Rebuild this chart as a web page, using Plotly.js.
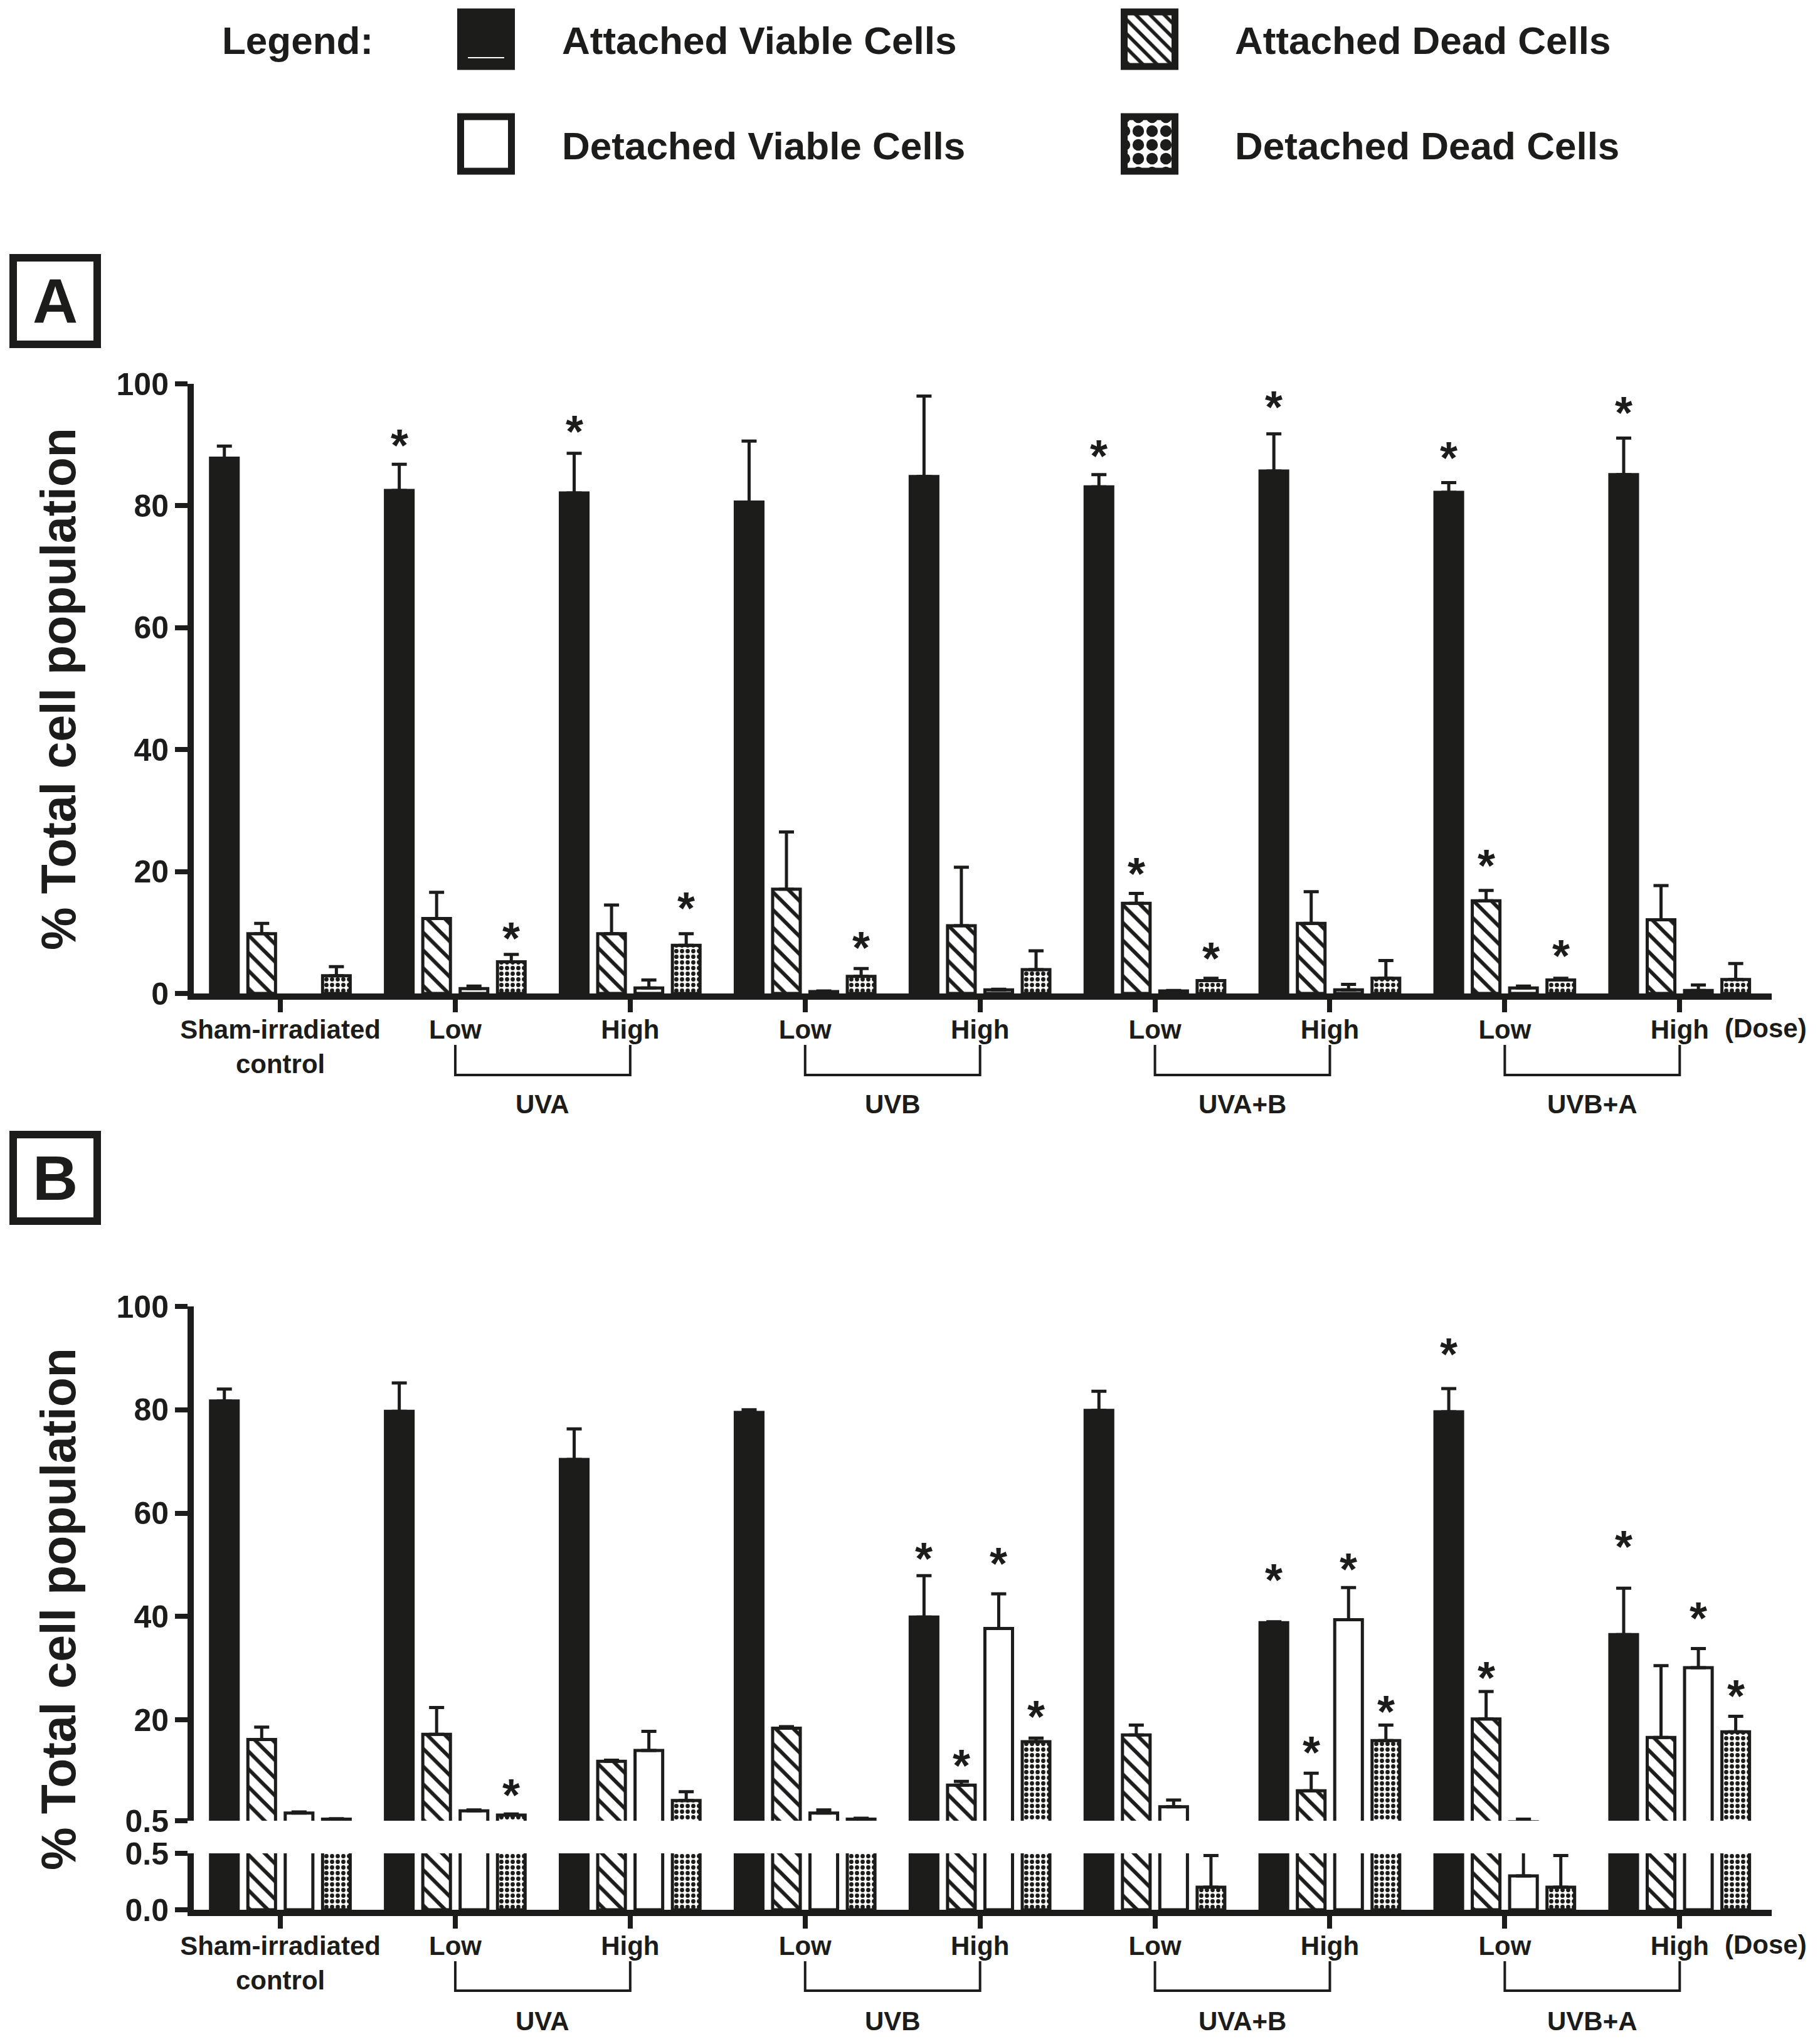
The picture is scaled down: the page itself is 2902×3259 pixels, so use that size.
<!DOCTYPE html>
<html>
<head>
<meta charset="utf-8">
<script src="https://cdn.plot.ly/plotly-3.0.1.min.js"></script>
<style>html,body{margin:0;padding:0;background:#fff}</style>
</head>
<body>
<div id="chart" style="width:2902px;height:3259px"></div>
<script>
var W = 2902, H = 3259
var ink = '#1c1d1a'
var FONT = '"Liberation Sans", Arial, sans-serif'

// categories (same for both panels)
var doses = ['Sham-irradiated<br>control', 'Low', 'High', 'Low', 'High', 'Low', 'High', 'Low', 'High']
var treatments = ['UVA', 'UVB', 'UVA+B', 'UVB+A']
var seriesNames = ['Attached Viable Cells', 'Attached Dead Cells', 'Detached Viable Cells', 'Detached Dead Cells']

// Panel A values (% total cell population) and upper error
var aAttViable    = [87.8, 82.5, 82.1, 80.6, 84.8, 83.1, 85.7, 82.2, 85.1]
var aAttViableErr = [2.0, 4.3, 6.5, 10.0, 13.2, 2.0, 6.1, 1.6, 6.0]
var aAttDead      = [9.8, 12.3, 9.8, 17.1, 11.1, 14.8, 11.5, 15.2, 12.1]
var aAttDeadErr   = [1.7, 4.3, 4.7, 9.4, 9.6, 1.6, 5.2, 1.7, 5.6]
var aDetViable    = [null, 0.8, 0.9, 0.3, 0.6, 0.4, 0.6, 0.9, 0.5]
var aDetViableErr = [0, 0.4, 1.3, 0.1, 0.1, 0.1, 0.9, 0.3, 0.9]
var aDetDead      = [2.9, 5.2, 7.9, 2.8, 3.9, 2.1, 2.5, 2.2, 2.3]
var aDetDeadErr   = [1.5, 1.2, 1.9, 1.3, 3.1, 0.4, 2.9, 0.3, 2.6]

// Panel A significance stars (height of the star, null = none)
var aStarAttViable = [null, 91.4, 93.6, null, null, 89.6, 97.6, 89.3, 96.7]
var aStarAttDead   = [null, null, null, null, null, 21.1, null, 22.4, null]
var aStarDetViable = [null, null, null, null, null, null, null, null, null]
var aStarDetDead   = [null, 10.5, 15.4, 9.0, null, 7.2, null, 7.6, null]

// Panel B values
var bAttViable    = [81.7, 79.7, 70.4, 79.5, 39.9, 79.9, 38.8, 79.6, 36.5]
var bAttViableErr = [2.3, 5.5, 5.9, 0.5, 8.0, 3.7, 0.2, 4.5, 9.0]
var bAttDead      = [16.2, 17.2, 12.0, 18.4, 7.4, 17.1, 6.3, 20.2, 16.6]
var bAttDeadErr   = [2.4, 5.2, 0.2, 0.3, 0.7, 1.9, 3.4, 5.3, 13.9]
var bDetViable    = [2.0, 2.4, 14.1, 2.0, 37.7, 3.2, 39.4, 0.3, 30.1]
var bDetViableErr = [0.2, 0.2, 3.7, 0.6, 6.7, 1.3, 6.2, 0.5, 3.7]
var bDetDead      = [0.8, 1.6, 4.4, 0.8, 15.8, 0.2, 16.0, 0.2, 17.7]
var bDetDeadErr   = [0.1, 0.2, 1.7, 0.2, 0.7, 0.28, 3.0, 0.28, 3.0]

var bStarAttViable = [null, null, null, null, 52.9, null, 48.8, 92.5, 55.2]
var bStarAttDead   = [null, null, null, null, 12.9, null, 15.4, 29.9, null]
var bStarDetViable = [null, null, null, null, 51.9, null, 50.8, null, 41.4]
var bStarDetDead   = [null, 7.2, null, null, 22.3, null, 23.3, null, 26.3]

var idx = doses.map(function (d, i) { return i })

var BARGAP = 0.146, GROUPGAP = 0.26
var BREAK = 0.5 // value where the panel B axis is broken

// fill styles of the four series
var styles = [
    { color: ink, line: { color: ink, width: 5 } },
    { color: '#fff', line: { color: ink, width: 5 },
      pattern: { shape: '\\', fgcolor: ink, bgcolor: '#fff', size: 20, solidity: 0.3 } },
    { color: '#fff', line: { color: ink, width: 5 } },
    { color: '#fff', line: { color: ink, width: 5 },
      pattern: { shape: '.', fgcolor: ink, bgcolor: '#fff', size: 9, solidity: 0.45 } },
]

function slotOffset(s) {
    var gw = 1 - BARGAP
    return -gw / 2 + gw / 4 * (s + 0.5)
}

// minBreak: hide error bars that end below the axis break (upper segment)
function bars(xa, ya, vals, errs, s, minBreak) {
    var up = errs.map(function (e, i) {
        if (minBreak && (vals[i] == null || vals[i] + e < BREAK)) return null
        return e
    })
    return {
        type: 'bar', name: seriesNames[s], x: idx, y: vals,
        xaxis: xa, yaxis: ya, marker: styles[s],
        error_y: {
            type: 'data', symmetric: false, array: up,
            arrayminus: up.map(function (e) { return e == null ? null : 0 }),
            color: ink, thickness: 5, width: 12
        },
        hoverinfo: 'skip'
    }
}

var panelA = [[aAttViable, aAttViableErr, aStarAttViable], [aAttDead, aAttDeadErr, aStarAttDead],
              [aDetViable, aDetViableErr, aStarDetViable], [aDetDead, aDetDeadErr, aStarDetDead]]
var panelB = [[bAttViable, bAttViableErr, bStarAttViable], [bAttDead, bAttDeadErr, bStarAttDead],
              [bDetViable, bDetViableErr, bStarDetViable], [bDetDead, bDetDeadErr, bStarDetDead]]

var data = []
panelA.forEach(function (p, s) { data.push(bars('x', 'y', p[0], p[1], s)) })
panelB.forEach(function (p, s) { data.push(bars('x2', 'y2', p[0], p[1], s, true)) })  // upper segment
panelB.forEach(function (p, s) { data.push(bars('x2', 'y3', p[0], p[1], s)) })        // lower segment (0 - 0.5)

// legend swatches drawn as bars on a hidden pixel-space axis
var legCols = [775, 1833], legRows = [19, 186]
seriesNames.forEach(function (n, s) {
    var m = JSON.parse(JSON.stringify(styles[s]))
    m.line.width = 11
    if (m.pattern) { m.pattern.size = s == 1 ? 16 : 22; m.pattern.solidity = s == 1 ? 0.35 : 0.55 }
    data.push({
        type: 'bar', x: [legCols[s % 2]], y: [87], base: [legRows[Math.floor(s / 2)]],
        width: [81], offset: [-40.5], xaxis: 'x4', yaxis: 'y4', marker: m, hoverinfo: 'skip'
    })
})

function px(y) { return 1 - y / H }

var tickFont = { family: FONT, size: 50, color: ink, weight: 'bold' }
var xTickFont = { family: FONT, size: 42, color: ink, weight: 'bold' }

function xAxis(anchor) {
    return {
        domain: [309 / W, 2825 / W], range: [-0.495, 8.526], anchor: anchor, type: 'linear',
        tickvals: idx, ticktext: doses, ticks: 'outside', ticklen: 20, tickwidth: 8, tickcolor: ink,
        ticklabelstandoff: -8,
        showline: true, linewidth: 10, linecolor: ink, showgrid: false, zeroline: false,
        tickfont: xTickFont, fixedrange: true
    }
}

function yAxis(anchor, domain, range, vals, text) {
    return {
        domain: domain, range: range, anchor: anchor,
        tickvals: vals, ticktext: text, ticks: 'outside', ticklen: 20, tickwidth: 8, tickcolor: ink,
        showline: true, linewidth: 10, linecolor: ink, showgrid: false, zeroline: false,
        tickfont: tickFont, fixedrange: true
    }
}

var annotations = []
var shapes = []

function note(text, x, y, size, opts) {
    var a = {
        text: text, x: x, y: y, xref: 'paper', yref: 'paper', showarrow: false,
        xanchor: 'left', yanchor: 'middle',
        font: { family: FONT, size: size, color: ink, weight: 'bold' }
    }
    for (var k in opts) a[k] = opts[k]
    annotations.push(a)
}

// significance stars, placed over their bar slot
function starNotes(xa, ya, ys, s) {
    ys.forEach(function (v, i) {
        if (v == null) return
        annotations.push({
            text: '*', x: i + slotOffset(s), y: v, xref: xa, yref: ya, showarrow: false,
            xanchor: 'center', yanchor: 'middle', yshift: -14,
            font: { family: FONT, size: 72, color: ink, weight: 'bold' }
        })
    })
}
panelA.forEach(function (p, s) { starNotes('x', 'y', p[2], s) })
panelB.forEach(function (p, s) { starNotes('x2', 'y2', p[2], s) })

// legend texts
note('Legend:', 352 / W, px(64), 62)
note(seriesNames[0], 894 / W, px(64), 62)
note(seriesNames[1], 1967 / W, px(64), 62)
note(seriesNames[2], 894 / W, px(232), 62)
note(seriesNames[3], 1967 / W, px(232), 62)
shapes.push({ type: 'line', xref: 'paper', yref: 'paper', x0: 746 / W, x1: 804 / W,
              y0: px(92), y1: px(92), line: { color: '#fff', width: 2 } })

// panel letters
note('A', 88 / W, px(480), 100, { xanchor: 'center', bordercolor: ink, borderwidth: 12, borderpad: 0, width: 122, height: 126 })
note('B', 88 / W, px(1878), 100, { xanchor: 'center', bordercolor: ink, borderwidth: 12, borderpad: 0, width: 122, height: 126 })

// y titles
note('% Total cell population', 93 / W, px(1099), 77, { xanchor: 'center', textangle: -90 })
note('% Total cell population', 93 / W, px(2566), 77, { xanchor: 'center', textangle: -90 })

// dose markers
note('(Dose)', 2815 / W, px(1639), 42, { xanchor: 'center' })
note('(Dose)', 2815 / W, px(3100), 42, { xanchor: 'center' })

// treatment brackets and labels
var brackets = [{ xref: 'x', top: 1666, bot: 1714, label: 1760 }, { xref: 'x2', top: 3127, bot: 3174, label: 3222 }]
brackets.forEach(function (b) {
    treatments.forEach(function (t, k) {
        var lo = 1 + 2 * k, hi = 2 + 2 * k
        shapes.push({
            type: 'path', xref: b.xref, yref: 'paper',
            path: 'M' + lo + ',' + px(b.top) + ' L' + lo + ',' + px(b.bot) + ' L' + hi + ',' + px(b.bot) + ' L' + hi + ',' + px(b.top),
            line: { color: ink, width: 4 }
        })
        annotations.push({
            text: t, x: (lo + hi) / 2, y: px(b.label), xref: b.xref, yref: 'paper', showarrow: false,
            xanchor: 'center', yanchor: 'middle', font: { family: FONT, size: 42, color: ink, weight: 'bold' }
        })
    })
})

var layout = {
    width: W, height: H,
    margin: { l: 0, r: 0, t: 0, b: 0 },
    paper_bgcolor: '#fff', plot_bgcolor: 'rgba(0,0,0,0)',
    showlegend: false,
    barmode: 'group', bargap: BARGAP, bargroupgap: GROUPGAP,
    font: { family: FONT, color: ink },
    xaxis: xAxis('y'),
    yaxis: yAxis('x', [px(1584), px(612)], [0, 100], [0, 20, 40, 60, 80, 100], ['0', '20', '40', '60', '80', '100']),
    xaxis2: xAxis('y3'),
    yaxis2: yAxis('x2', [px(2903), px(2083)], [BREAK, 100], [0.5, 20, 40, 60, 80, 100], ['0.5', '20', '40', '60', '80', '100']),
    yaxis3: yAxis('x2', [px(3045), px(2955)], [0, BREAK], [0, 0.5], ['0.0', '0.5']),
    xaxis4: { domain: [0, 1], range: [0, W], anchor: 'y4', visible: false, fixedrange: true },
    yaxis4: { domain: [px(326), 1], range: [326, 0], anchor: 'x4', visible: false, fixedrange: true },
    annotations: annotations,
    shapes: shapes
}

var config = { displayModeBar: false, responsive: false }

Plotly.newPlot('chart', data, layout, config)
</script>
</body>
</html>
